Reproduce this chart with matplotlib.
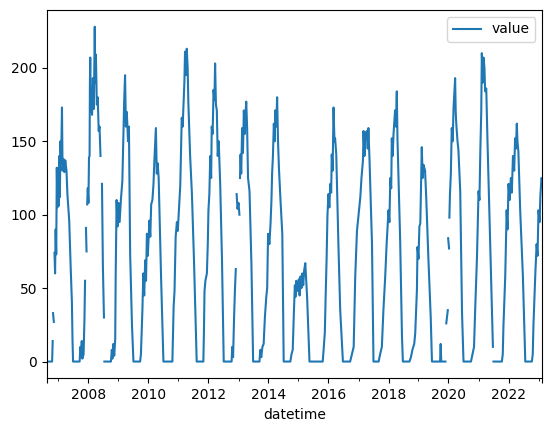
import numpy as np
import pandas as pd
import matplotlib
matplotlib.use("Agg")
import matplotlib.pyplot as plt
import matplotlib.dates as mdates
from matplotlib.ticker import FixedLocator, FixedFormatter

nan = np.nan

# values, NaN marks a gap in the record
dates = [
    "2006-08-11", "2006-10-16", "2006-10-23", "2006-10-26", "2006-10-27", "2006-11-06", "2006-11-09",
    "2006-11-14", "2006-11-21", "2006-11-28", "2006-12-05", "2006-12-12", "2006-12-19", "2006-12-27",
    "2007-01-04", "2007-01-11", "2007-01-18", "2007-01-26", "2007-02-02", "2007-02-13", "2007-02-20",
    "2007-03-03", "2007-03-14", "2007-03-25", "2007-04-09", "2007-04-20", "2007-05-12", "2007-05-30",
    "2007-06-14", "2007-06-21", "2007-06-28",
    "2007-09-16", "2007-09-24", "2007-10-01", "2007-10-12", "2007-10-19", "2007-11-03", "2007-11-14",
    "2007-11-21", "2007-11-25", "2007-12-02", "2007-12-09", "2007-12-12",
    "2007-12-17", "2007-12-24", "2008-01-01", "2008-01-08", "2008-01-15", "2008-01-19", "2008-01-23",
    "2008-01-30", "2008-02-06", "2008-02-14", "2008-02-24", "2008-03-07", "2008-03-18", "2008-03-25",
    "2008-04-01", "2008-04-12", "2008-04-23", "2008-05-05", "2008-05-15", "2008-05-27", "2008-06-01",
    "2008-06-14", "2008-06-25", "2008-07-08", "2008-07-12",
    "2008-07-13", "2008-10-01", "2008-10-12", "2008-10-19", "2008-10-30", "2008-11-10", "2008-11-22",
    "2008-11-28", "2008-12-09", "2008-12-20", "2009-01-01", "2009-01-15", "2009-01-30", "2009-02-17",
    "2009-02-28", "2009-03-11", "2009-03-22", "2009-04-01", "2009-04-12", "2009-04-27", "2009-05-08",
    "2009-05-23", "2009-06-14", "2009-07-02",
    "2009-09-21", "2009-10-01", "2009-10-19", "2009-10-30", "2009-11-10", "2009-11-22", "2009-12-02",
    "2009-12-13", "2009-12-24", "2010-01-12", "2010-01-23", "2010-02-03", "2010-02-18", "2010-03-03",
    "2010-03-14", "2010-04-01", "2010-04-12", "2010-04-23", "2010-05-05", "2010-06-03", "2010-07-02",
    "2010-10-19", "2010-10-27", "2010-11-03", "2010-11-14", "2010-11-28", "2010-12-13", "2010-12-24",
    "2011-01-08", "2011-01-23", "2011-02-03", "2011-02-10", "2011-02-21", "2011-03-03", "2011-03-14",
    "2011-03-22", "2011-04-01", "2011-04-12", "2011-04-23", "2011-05-01", "2011-05-23", "2011-06-14",
    "2011-07-09", "2011-08-11",
    "2011-10-31", "2011-11-07", "2011-11-14", "2011-11-25", "2011-12-13", "2011-12-24", "2012-01-01",
    "2012-01-12", "2012-01-23", "2012-02-03", "2012-02-10", "2012-02-21", "2012-03-03", "2012-03-14",
    "2012-03-22", "2012-04-01", "2012-04-12", "2012-04-23", "2012-05-05", "2012-05-23", "2012-06-14",
    "2012-07-05",
    "2012-10-09", "2012-10-16", "2012-10-27", "2012-11-07", "2012-11-18", "2012-11-29", "2012-12-03",
    "2012-12-09", "2012-12-20", "2013-01-01", "2013-01-12", "2013-01-14",
    "2013-01-19", "2013-01-26", "2013-02-03", "2013-02-14", "2013-02-24", "2013-03-07", "2013-03-18",
    "2013-03-29", "2013-04-05", "2013-04-16", "2013-04-27", "2013-05-15", "2013-06-07", "2013-06-28",
    "2013-09-13", "2013-09-24", "2013-10-05", "2013-10-19", "2013-11-03", "2013-11-18", "2013-12-05",
    "2013-12-16", "2013-12-27", "2014-01-12", "2014-01-26", "2014-02-06", "2014-02-14", "2014-02-24",
    "2014-03-07", "2014-03-18", "2014-03-25", "2014-04-05", "2014-04-16", "2014-04-27", "2014-05-08",
    "2014-05-27", "2014-06-18", "2014-07-05",
    "2014-09-24", "2014-10-08", "2014-10-23", "2014-11-07", "2014-11-18", "2014-11-25", "2014-12-05",
    "2014-12-16", "2015-01-04", "2015-01-15", "2015-01-26", "2015-02-06", "2015-02-17", "2015-02-28",
    "2015-03-11", "2015-03-25", "2015-04-05", "2015-04-16", "2015-05-15",
    "2015-10-23", "2015-11-03", "2015-11-18", "2015-11-28", "2015-12-09", "2015-12-20", "2016-01-01",
    "2016-01-12", "2016-01-23", "2016-02-03", "2016-02-10", "2016-02-21", "2016-03-03", "2016-03-14",
    "2016-03-22", "2016-04-05", "2016-05-01", "2016-05-23", "2016-06-25",
    "2016-09-21", "2016-10-12", "2016-11-03", "2016-11-22", "2016-12-13", "2017-01-01", "2017-01-23",
    "2017-02-06", "2017-02-24", "2017-03-03", "2017-03-14", "2017-03-25", "2017-04-12", "2017-04-23",
    "2017-05-01", "2017-05-15", "2017-06-14", "2017-07-02",
    "2017-09-03", "2017-09-21", "2017-10-12", "2017-10-31", "2017-11-22", "2017-12-09", "2018-01-01",
    "2018-01-12", "2018-01-23", "2018-02-03", "2018-02-10", "2018-02-21", "2018-03-03", "2018-03-22",
    "2018-04-01", "2018-04-12", "2018-04-20", "2018-05-23", "2018-06-14", "2018-06-25",
    "2018-09-13", "2018-10-01", "2018-10-19", "2018-11-10", "2018-11-22", "2018-12-13", "2018-12-20",
    "2019-01-01", "2019-01-12", "2019-01-23", "2019-01-30", "2019-02-10", "2019-02-21", "2019-03-03",
    "2019-03-22", "2019-04-05", "2019-05-01", "2019-05-30", "2019-06-14",
    "2019-09-21", "2019-09-28", "2019-10-05", "2019-11-25", "2019-11-28",
    "2019-12-05", "2019-12-24", "2019-12-27", "2019-12-28", "2020-01-08", "2020-01-10",
    "2020-01-12", "2020-01-19", "2020-01-30", "2020-02-10", "2020-02-21", "2020-03-03", "2020-03-22",
    "2020-03-29", "2020-04-05", "2020-04-20", "2020-05-01", "2020-05-23", "2020-06-14", "2020-07-02",
    "2020-10-01", "2020-10-19", "2020-11-07", "2020-11-22", "2020-12-13", "2021-01-01", "2021-01-12",
    "2021-01-23", "2021-02-03", "2021-02-10", "2021-02-21", "2021-03-03", "2021-03-14", "2021-03-22",
    "2021-04-05", "2021-04-20", "2021-05-15", "2021-06-25", "2021-06-29",
    "2021-07-02", "2021-10-12", "2021-10-23", "2021-10-31", "2021-11-22", "2021-12-09", "2021-12-20",
    "2022-01-01", "2022-01-15", "2022-01-30", "2022-02-10", "2022-02-24", "2022-03-11", "2022-03-22",
    "2022-04-01", "2022-04-12", "2022-04-20", "2022-05-01", "2022-05-23", "2022-06-25", "2022-07-24",
    "2022-10-12", "2022-10-23", "2022-10-31", "2022-11-22", "2022-12-09", "2022-12-20", "2023-01-01",
    "2023-01-15", "2023-01-23", "2023-02-06", "2023-02-16",
]

values = [
    0, 0, 14, nan, 33, 27, nan,
    74, 60, 90, 73, 132, 105, 128,
    106, 140, 112, 150, 135, 173, 130,
    138, 129, 137, 130, 114, 96, 64,
    40, 15, 0,
    0, 10, 3, 14, 2, 5, 30,
    55, nan, 91, 75, nan,
    107, 118, 108, 139, 140, 190, 207,
    170, 185, 168, 193, 172, 228, 190,
    209, 175, 180, 157, 160, 140, nan,
    121, 65, 30, nan,
    0, 0, 8, 2, 12, 4, 15,
    60, 110, 92, 108, 95, 110, 123,
    150, 177, 195, 160, 170, 150, 160,
    73, 25, 0,
    0, 5, 35, 60, 45, 69, 55,
    87, 72, 96, 85, 107, 110, 121,
    137, 159, 128, 135, 125, 58, 0,
    0, 20, 37, 48, 85, 95, 89,
    105, 120, 150, 166, 160, 175, 190,
    211, 195, 213, 200, 177, 140, 114,
    69, 0,
    0, 20, 48, 55, 60, 80, 103,
    114, 140, 125, 160, 155, 185, 178,
    203, 175, 171, 140, 150, 121, 69,
    0,
    0, 10, 3, 28, 48, 63, nan,
    114, 104, 108, 100, nan,
    125, 141, 128, 159, 142, 171, 155,
    170, 177, 159, 125, 116, 67, 0,
    0, 8, 3, 10, 12, 30, 44,
    50, 87, 80, 94, 110, 128, 140,
    162, 150, 171, 160, 180, 150, 132,
    110, 87, 0,
    0, 5, 8, 35, 52, 44, 55,
    48, 56, 45, 58, 50, 60, 52,
    62, 67, 55, 44, 0,
    0, 8, 20, 45, 69, 100, 114,
    105, 121, 115, 141, 130, 173, 150,
    152, 141, 80, 35, 0,
    0, 5, 10, 58, 89, 100, 112,
    125, 137, 157, 140, 155, 157, 145,
    159, 137, 80, 0,
    0, 5, 10, 35, 58, 80, 103,
    95, 125, 118, 152, 140, 155, 171,
    160, 184, 152, 82, 17, 0,
    0, 3, 8, 12, 19, 49, 78,
    70, 92, 94, 114, 146, 125, 134,
    130, 112, 71, 30, 0,
    0, 12, 0, 0, nan,
    26, 35, nan, 84, 77, nan,
    98, 114, 128, 159, 150, 173, 193,
    170, 162, 150, 144, 116, 33, 0,
    0, 5, 10, 37, 71, 116, 110,
    144, 170, 210, 190, 207, 200, 184,
    186, 150, 96, 10, nan,
    0, 0, 5, 24, 58, 103, 90,
    121, 110, 125, 115, 140, 130, 152,
    145, 162, 150, 143, 103, 58, 0,
    0, 5, 24, 58, 80, 72, 103,
    95, 112, 125, 124,
]

s = pd.Series(values, index=pd.to_datetime(dates), name="value")

fig = plt.figure(figsize=(5.52, 4.32), dpi=100)
ax = fig.add_axes([0.0846, 0.1243, 0.8978, 0.8526])
ax.plot(s.index, s.values, color="#1f77b4", linewidth=1.5, label="value")

x0, x1 = mdates.date2num(s.index[0]), mdates.date2num(s.index[-1])
ax.set_xlim(x0, x1)

# pandas-style year ticks: labelled even years, unlabelled odd years, marks at both ends
even_years = [mdates.date2num(pd.Timestamp(f"{y}-01-01")) for y in range(2008, 2023, 2)]
odd_years = [mdates.date2num(pd.Timestamp(f"{y}-01-01")) for y in range(2007, 2024, 2)]
ax.xaxis.set_major_locator(FixedLocator([x0] + even_years + [x1]))
ax.xaxis.set_major_formatter(FixedFormatter([""] + [str(y) for y in range(2008, 2023, 2)] + [""]))
ax.xaxis.set_minor_locator(FixedLocator(odd_years))

ax.set_xlabel("datetime")
ax.legend(loc="upper right")

fig.savefig("out.png", dpi=100)
